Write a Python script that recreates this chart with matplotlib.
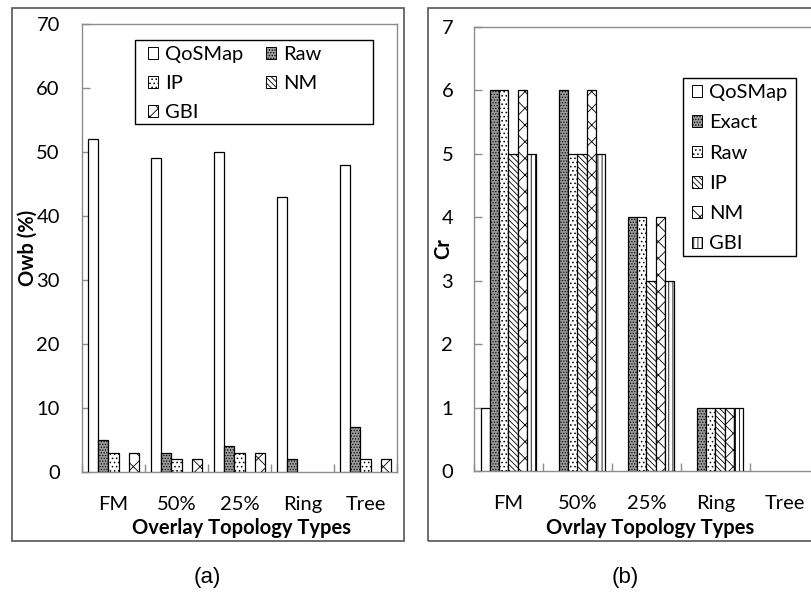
import numpy as np
import matplotlib
matplotlib.use("Agg")
import matplotlib.pyplot as plt
from matplotlib.patches import Rectangle, Patch

plt.rcParams['font.family'] = ['Lato', 'DejaVu Sans']
plt.rcParams['hatch.linewidth'] = 0.6

# ---- data -------------------------------------------------------------
categories = ["FM", "50%", "25%", "Ring", "Tree"]

owb_series = ["QoSMap", "Raw", "IP", "NM", "GBI"]
owb_qosmap = [52, 49, 50, 43, 48]
owb_raw = [5, 3, 4, 2, 7]
owb_ip = [3, 2, 3, 0, 2]
owb_nm = [0, 0, 0, 0, 0]
owb_gbi = [3, 2, 3, 0, 2]

cr_series = ["QoSMap", "Exact", "Raw", "IP", "NM", "GBI"]
cr_qosmap = [1, 0, 0, 0, 0]
cr_exact = [6, 6, 4, 1, 0]
cr_raw = [6, 5, 4, 1, 0]
cr_ip = [5, 5, 3, 1, 0]
cr_nm = [6, 6, 4, 1, 0]
cr_gbi = [5, 5, 3, 1, 0]

# ---- fill styles ------------------------------------------------------
STYLE = {
    "plain": dict(facecolor="white", hatch=None),
    "dense": dict(facecolor="#9c9c9c", hatch="......"),
    "dots": dict(facecolor="white", hatch="...."),
    "diag": dict(facecolor="white", hatch="\\" * 6),
    "cross": dict(facecolor="white", hatch="xx"),
    "vdash": dict(facecolor="white", hatch="||||"),
}

FS = 14.5
AXIS_GRAY = "#8c8c8c"

W, H = 812, 597
fig = plt.figure(figsize=(W / 100, H / 100), dpi=100)


def fig_rect(x0, y0, x1, y1):
    """Convert pixel box (top-left origin) to figure fraction rect."""
    return [x0 / W, 1 - y1 / H, (x1 - x0) / W, (y1 - y0) / H]


# outer chart frames
for (x0, y0, x1, y1) in [(12, 8, 404, 541), (428, 8, 818, 541)]:
    fig.add_artist(Rectangle((x0 / W, 1 - y1 / H), (x1 - x0) / W, (y1 - y0) / H,
                             transform=fig.transFigure, fill=False,
                             edgecolor="#555555", linewidth=1.2))


def grouped(ax, values, styles, width):
    n = len(values)
    x = np.arange(len(categories))
    for i, (vals, st) in enumerate(zip(values, styles)):
        v = np.array(vals, dtype=float)
        v[v == 0] = np.nan
        ax.bar(x + (i - (n - 1) / 2) * width, v, width,
               facecolor=STYLE[st]["facecolor"], hatch=STYLE[st]["hatch"],
               edgecolor="black", linewidth=0.9, zorder=3)


def style_axes(ax, ymax, ypad):
    ax.set_xlim(-0.5, len(categories) - 0.5)
    ax.set_ylim(0, ymax)
    for s in ax.spines.values():
        s.set_color(AXIS_GRAY)
        s.set_linewidth(1.0)
    ax.set_xticks(np.arange(len(categories)))
    ax.set_xticklabels(categories)
    ax.set_xticks(np.arange(len(categories) + 1) - 0.5, minor=True)
    ax.tick_params(axis="x", which="major", length=0, pad=17, labelsize=FS)
    ax.tick_params(axis="x", which="minor", direction="in", length=6,
                   color=AXIS_GRAY, width=1.0)
    ax.tick_params(axis="y", direction="in", length=6, color=AXIS_GRAY,
                   width=1.0, pad=ypad, labelsize=FS)


def boxed_legend(ax, handles, labels, box, inset, ncol, spacing, colspace):
    """Legend without its own frame, plus a plain rectangle drawn as its box
    (box given in pixel coordinates of the figure)."""
    x0, y0, x1, y1 = box
    inv = ax.transAxes.inverted()
    (ax0, ay1), (ax1_, ay0) = inv.transform(
        fig.transFigure.transform([(x0 / W, 1 - y0 / H), (x1 / W, 1 - y1 / H)]))
    ax.add_patch(Rectangle((ax0, ay0), ax1_ - ax0, ay1 - ay0,
                           transform=ax.transAxes, fill=False,
                           edgecolor="black", linewidth=1.0, zorder=5))
    (lx, _), = inv.transform(fig.transFigure.transform([((x0 + inset) / W, 0)]))
    leg = ax.legend(handles, labels, ncol=ncol, loc="upper left",
                    bbox_to_anchor=(lx, ay1), borderaxespad=0,
                    fontsize=FS, frameon=False, handlelength=0.5,
                    handleheight=0.5, handletextpad=0.35,
                    labelspacing=spacing, columnspacing=colspace,
                    borderpad=0.3)
    leg.set_zorder(6)
    return leg


# ---- (a) Owb ----------------------------------------------------------
ax1 = fig.add_axes(fig_rect(82, 24, 397, 472))
owb_styles = ["plain", "dense", "dots", "diag", "cross"]
grouped(ax1, [owb_qosmap, owb_raw, owb_ip, owb_nm, owb_gbi], owb_styles, 0.16)
style_axes(ax1, 70, 16)
ax1.set_yticks(np.arange(0, 71, 10))
ax1.set_xlabel("Overlay Topology Types", fontsize=FS, fontweight="bold")
ax1.xaxis.set_label_coords(0.505, -0.103)
ax1.set_ylabel("Owb (%)", fontsize=FS, fontweight="bold")
ax1.yaxis.set_label_coords(-0.14, 0.5)

h1 = [Patch(facecolor=STYLE[s]["facecolor"], hatch=STYLE[s]["hatch"],
            edgecolor="black", linewidth=0.7, label=l)
      for l, s in zip(owb_series, owb_styles)]
order = [0, 2, 4, 1, 3]
boxed_legend(ax1, [h1[i] for i in order], [owb_series[i] for i in order],
             (135, 40, 373, 124), 7, 2, 0.6, 1.1)

# ---- (b) Cr -----------------------------------------------------------
ax2 = fig.add_axes(fig_rect(474, 27, 819, 471))
cr_styles = ["plain", "dense", "dots", "diag", "cross", "vdash"]
grouped(ax2, [cr_qosmap, cr_exact, cr_raw, cr_ip, cr_nm, cr_gbi], cr_styles, 0.135)
style_axes(ax2, 7, 15)
ax2.set_yticks(np.arange(0, 8, 1))
ax2.set_xlabel("Ovrlay Topology Types", fontsize=FS, fontweight="bold")
ax2.xaxis.set_label_coords((650 - 474) / 345, -0.106)
ax2.set_ylabel("Cr", fontsize=FS, fontweight="bold")
ax2.yaxis.set_label_coords(-0.06, 0.5)

h2 = [Patch(facecolor=STYLE[s]["facecolor"], hatch=STYLE[s]["hatch"],
            edgecolor="black", linewidth=0.7, label=l)
      for l, s in zip(cr_series, cr_styles)]
boxed_legend(ax2, h2, cr_series, (683, 78, 796, 256), 3, 1, 0.66, 1.0)

# panel captions
fig.text(207 / W, 1 - 578 / H, "(a)", ha="center", va="center",
         fontsize=16, family="Liberation Sans")
fig.text(625 / W, 1 - 578 / H, "(b)", ha="center", va="center",
         fontsize=16, family="Liberation Sans")

fig.savefig("out.png", dpi=100)
